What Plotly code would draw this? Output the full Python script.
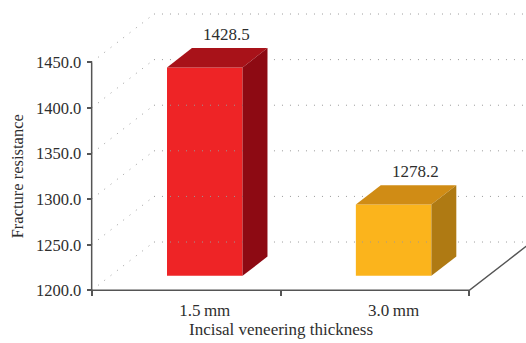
import plotly.graph_objects as go

categories = ["1.5\u2009mm", "3.0\u2009mm"]
values = [1428.5, 1278.2]
value_labels = ["1428.5", "1278.2"]
y_ticks = [1200, 1250, 1300, 1350, 1400, 1450]
y_tick_labels = ["1200.0", "1250.0", "1300.0", "1350.0", "1400.0", "1450.0"]
front_colors = ["#EE2426", "#FBB41C"]
top_colors = ["#A81219", "#D08C15"]
side_colors = ["#8D0A13", "#AF7A13"]

BASE = 1200
DX = 0.33      # depth offset in x data units
DY = 53.0      # depth offset in y data units
Z0, Z1 = 0.3, 0.7
HALF = 0.2
XR = [-0.03, 2.30]
W, H = 526, 343
ML, MR, MT, MB = 86, 0, 10, 49
PX_PER_Y = 0.912
plot_h = H - MT - MB
YR = [1196, 1196 + plot_h / PX_PER_Y]

AX = "#555555"
GRID = "#9a9a9a"
TXT = "#2e2e2e"
FONT = "Liberation Serif"

fig = go.Figure()

# back wall gridlines and side-wall diagonals
for t in y_ticks:
    fig.add_trace(go.Scatter(x=[DX, len(categories) + DX], y=[t + DY, t + DY], mode="lines",
                             line=dict(color=GRID, width=1, dash="1px,7px"), hoverinfo="skip", showlegend=False))
    fig.add_trace(go.Scatter(x=[0, DX], y=[t, t + DY], mode="lines",
                             line=dict(color=GRID, width=1, dash="1px,7px"), hoverinfo="skip", showlegend=False))

# floor: front axis line and right diagonal
n = len(categories)
fig.add_trace(go.Scatter(x=[0, n, n + DX], y=[BASE, BASE, BASE + DY], mode="lines",
                         line=dict(color=AX, width=1.5), hoverinfo="skip", showlegend=False))
# front y axis line
fig.add_trace(go.Scatter(x=[0, 0], y=[BASE, y_ticks[-1]], mode="lines",
                         line=dict(color=AX, width=1.5), hoverinfo="skip", showlegend=False))

for i, v in enumerate(values):
    c = i + 0.5
    xl0, xr0 = c - HALF + Z0 * DX, c + HALF + Z0 * DX
    xl1, xr1 = c - HALF + Z1 * DX, c + HALF + Z1 * DX
    # front face
    fig.add_trace(go.Bar(x=[c + Z0 * DX], y=[v - BASE], base=[BASE + Z0 * DY], width=[2 * HALF],
                         marker=dict(color=front_colors[i], line=dict(width=0)), hoverinfo="skip", showlegend=False))
    # top face
    fig.add_trace(go.Scatter(x=[xl0, xr0, xr1, xl1, xl0],
                             y=[v + Z0 * DY, v + Z0 * DY, v + Z1 * DY, v + Z1 * DY, v + Z0 * DY],
                             mode="lines", fill="toself", fillcolor=top_colors[i],
                             line=dict(width=0, color=top_colors[i]), hoverinfo="skip", showlegend=False))
    # side face
    fig.add_trace(go.Scatter(x=[xr0, xr1, xr1, xr0, xr0],
                             y=[BASE + Z0 * DY, BASE + Z1 * DY, v + Z1 * DY, v + Z0 * DY, BASE + Z0 * DY],
                             mode="lines", fill="toself", fillcolor=side_colors[i],
                             line=dict(width=0, color=side_colors[i]), hoverinfo="skip", showlegend=False))
    fig.add_annotation(x=c + 0.65 * DX, y=v + Z1 * DY, text=value_labels[i], showarrow=False,
                       yanchor="bottom", yshift=2, font=dict(family=FONT, size=17, color=TXT))

fig.add_annotation(x=n / 2, xref="x", y=-0.0, yref="paper", yanchor="top", yshift=-24,
                   text="Incisal veneering thickness", showarrow=False,
                   font=dict(family=FONT, size=17, color=TXT))
fig.add_annotation(x=0, xref="paper", xanchor="center", xshift=-69,
                   y=(BASE + y_ticks[-1]) / 2, yref="y", text="Fracture resistance", textangle=-90,
                   showarrow=False, font=dict(family=FONT, size=16.5, color=TXT))

xpos = (BASE - YR[0]) / (YR[1] - YR[0])
ypos = (0 - XR[0]) / (XR[1] - XR[0])

fig.update_layout(
    width=W, height=H, margin=dict(l=ML, r=MR, t=MT, b=MB),
    paper_bgcolor="white", plot_bgcolor="white", barmode="overlay",
    xaxis=dict(range=XR, anchor="free", position=xpos, showgrid=False, zeroline=False, showline=False,
               tickvals=[i + 0.5 + Z0 * DX for i in range(n)], ticktext=categories, ticks="",
               ticklabelstandoff=8, tickfont=dict(family=FONT, size=17, color=TXT),
               minor=dict(tickvals=list(range(n + 1)), ticks="outside", ticklen=5, tickcolor=AX, tickwidth=1.5)),
    yaxis=dict(range=YR, anchor="free", position=ypos, showgrid=False, zeroline=False, showline=False,
               tickvals=y_ticks, ticktext=y_tick_labels, ticks="outside", ticklen=5, tickcolor=AX, tickwidth=1.5,
               ticklabelstandoff=2, tickfont=dict(family=FONT, size=16.5, color=TXT)),
)

fig.write_html("out.html")
